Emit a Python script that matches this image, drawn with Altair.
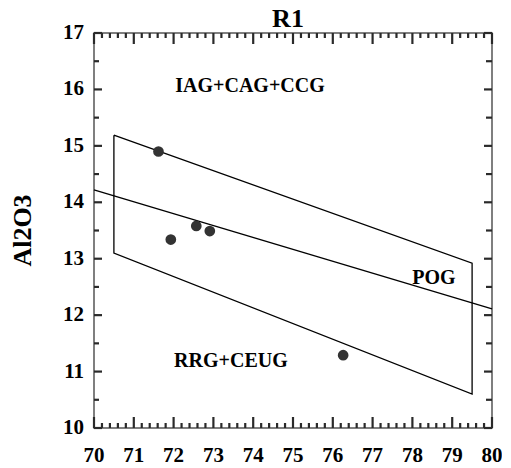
import altair as alt
import pandas as pd

# Data
pts_x = [71.62, 71.93, 72.57, 72.91, 76.26]
pts_y = [14.90, 13.34, 13.58, 13.49, 11.29]

poly_x = [70.5, 79.5, 79.5, 70.5, 70.5]
poly_y = [15.19, 12.92, 10.60, 13.10, 15.19]

mid_x = [70.0, 80.0]
mid_y = [14.22, 12.11]

label_text = ["IAG+CAG+CCG", "POG", "RRG+CEUG"]
label_x = [73.92, 78.54, 73.44]
label_y = [16.06, 12.65, 11.18]

x_major = list(range(70, 81))
x_minor = [round(70 + 0.2 * i, 1) for i in range(51) if i % 5 != 0]
y_major = list(range(10, 18))
y_minor = [10.5, 11.5, 12.5, 13.5, 14.5, 15.5, 16.5]

W, H = 398, 395
FONT = "Liberation Serif"
GRAY = "#555555"
TICK = "#2a2a2a"

xs = alt.Scale(domain=[70, 80], nice=False, zero=False)
ys = alt.Scale(domain=[10, 17], nice=False, zero=False)

pts = pd.DataFrame({"x": pts_x, "y": pts_y})
poly = pd.DataFrame({"x": poly_x, "y": poly_y, "o": list(range(len(poly_x)))})
mid = pd.DataFrame({"x": mid_x, "y": mid_y, "o": [0, 1]})
labels = pd.DataFrame({"t": label_text, "x": label_x, "y": label_y})


def X(f):
    return alt.X(f, scale=xs, axis=None)


def Y(f):
    return alt.Y(f, scale=ys, axis=None)


def xticks(values, y0, y1):
    return alt.Chart(pd.DataFrame({"v": values})).mark_rule(
        color=TICK, strokeWidth=2.2).encode(
        x=X("v:Q"), y=alt.value(y0), y2=alt.value(y1))


def yticks(values, x0, x1):
    return alt.Chart(pd.DataFrame({"v": values})).mark_rule(
        color=TICK, strokeWidth=2.2).encode(
        y=Y("v:Q"), x=alt.value(x0), x2=alt.value(x1))


tick_layers = [
    xticks(x_major, H, H - 11), xticks(x_minor, H, H - 5),
    xticks(x_major, 0, 11), xticks(x_minor, 0, 5),
    yticks(y_major, 0, 8), yticks(y_minor, 0, 5),
    yticks(y_major, W, W - 8), yticks(y_minor, W, W - 6),
]

points = alt.Chart(pts).mark_point(filled=True, shape="circle", size=115,
                                   color="#333333", opacity=1).encode(
    x=X("x:Q"), y=Y("y:Q"))

polyline = alt.Chart(poly).mark_line(color="black", strokeWidth=1.3).encode(
    x=X("x:Q"), y=Y("y:Q"), order="o:Q")

midline = alt.Chart(mid).mark_line(color="black", strokeWidth=1.3).encode(
    x=X("x:Q"), y=Y("y:Q"), order="o:Q")

texts = alt.Chart(labels).mark_text(font=FONT, fontWeight="bold", fontSize=20,
                                    color="black", baseline="middle",
                                    align="center").encode(
    x=X("x:Q"), y=Y("y:Q"), text="t:N")

title = alt.Chart(pd.DataFrame({"t": ["R1"]})).mark_text(
    font=FONT, fontWeight="bold", fontSize=26, color="black",
    baseline="alphabetic", align="center").encode(
    x=alt.value(W / 2 - 5), y=alt.value(-6), text="t:N")

ytitle = alt.Chart(pd.DataFrame({"t": ["Al2O3"]})).mark_text(
    font=FONT, fontWeight="bold", fontSize=26, color="black",
    baseline="middle", align="center", angle=270).encode(
    x=alt.value(-71), y=alt.value(H / 2), text="t:N")

xlabels = alt.Chart(pd.DataFrame({"lv": x_major})).mark_text(
    font=FONT, fontWeight="bold", fontSize=21, color="black",
    baseline="alphabetic", align="center").encode(
    x=X("lv:Q"), y=alt.value(H + 34), text=alt.Text("lv:Q", format="d"))

ylabels = alt.Chart(pd.DataFrame({"lv": y_major})).mark_text(
    font=FONT, fontWeight="bold", fontSize=21, color="black",
    baseline="middle", align="right").encode(
    y=Y("lv:Q"), x=alt.value(-10), text=alt.Text("lv:Q", format="d"))

chart = alt.layer(*tick_layers, polyline, midline, texts, points,
                  xlabels, ylabels, title, ytitle).properties(
    width=W, height=H,
    autosize=alt.AutoSizeParams(type="none"),
    padding={"left": 86, "top": 25, "right": 10, "bottom": 40},
).configure_view(stroke=GRAY, strokeWidth=1.5)

chart.save("out.html", embed_options={"renderer": "svg", "actions": False})
